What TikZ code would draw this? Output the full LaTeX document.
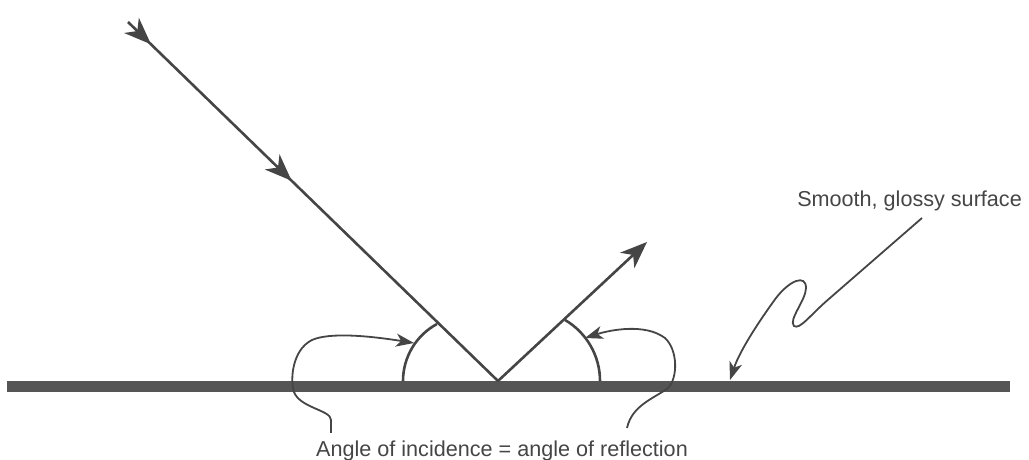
\documentclass[tikz,border=0pt]{standalone}
\usepackage{fontspec}
\setmainfont{Liberation Sans}
\usetikzlibrary{arrows.meta,decorations.markings}
\definecolor{ink}{HTML}{454545}
\definecolor{barc}{HTML}{555555}
\tikzset{
  bigtip/.tip={Stealth[length=27pt,width=21pt,inset=8pt]},
  smalltip/.tip={Stealth[length=18pt,width=13pt,inset=5pt]},
  ray/.style={draw=ink, line width=2.6pt},
  thin/.style={draw=ink, line width=1.8pt},
  surface/.style={draw=barc, line width=10.5pt},
  lbl/.style={text=ink, font=\fontsize{21.6}{24}\selectfont, inner sep=0pt}
}
\begin{document}
\begin{tikzpicture}[x=1pt,y=1pt]
\useasboundingbox (0,0) rectangle (1029,460);
% surface
\coordinate (BL) at (7,73.5);
\coordinate (BR) at (1010,73.5);
\draw[surface] (BL) -- (BR);
% rays
\coordinate (S) at (128,438);
\coordinate (V) at (498,79);
\coordinate (R) at (647,218);
\draw[ray, postaction={decorate}, decoration={markings,
  mark=at position 32pt with {\arrow{bigtip}},
  mark=at position 228pt with {\arrow{bigtip}}}] (S) -- (V);
\draw[ray, -{bigtip}] (V) -- (R);
% angle arcs
\draw[ray] (403,79) arc[start angle=180, end angle=118.4, radius=64.8];
\draw[ray] (600,79) arc[start angle=0, end angle=59.7, radius=70.7];
% labels
\node[lbl, anchor=base west] (ang) at (316,3.5) {Angle of incidence = angle of reflection};
\node[lbl, anchor=base east] (smooth) at (1022,253) {Smooth, glossy surface};
% curly pointers
\draw[thin, -{smalltip}] (331,27) -- (331,40) .. controls (331,50) and (300,52) .. (294,68)
  .. controls (290,80) and (292,110) .. (312,120) .. controls (330,128) and (370,124) .. (414,117);
\draw[thin, -{smalltip}] (627,32) .. controls (632,55) and (655,62) .. (668,72)
  .. controls (678,82) and (678,110) .. (665,122) .. controls (645,137) and (610,130) .. (585,122);
\draw[thin, -{smalltip}] (922,242) -- (830,162) .. controls (810,145) and (800,130) .. (794,134)
  .. controls (788,140) and (806,160) .. (806,172) .. controls (806,186) and (790,180) .. (776,162)
  .. controls (760,140) and (740,110) .. (730,80);
\end{tikzpicture}
\end{document}
